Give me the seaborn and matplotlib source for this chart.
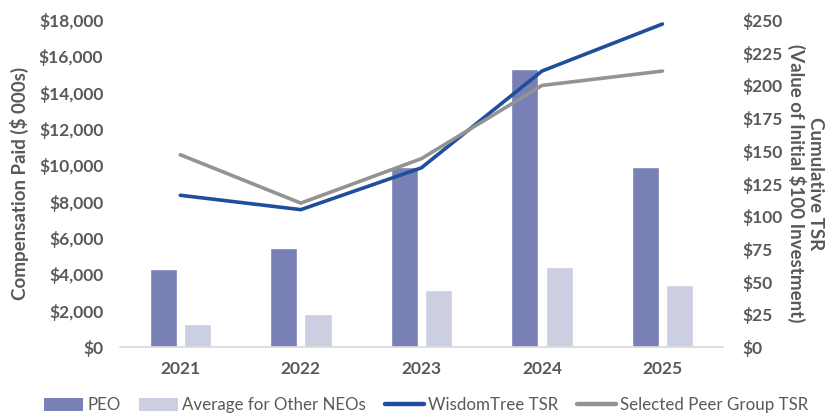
import matplotlib
matplotlib.use("Agg")
import matplotlib.pyplot as plt
import seaborn as sns
import pandas as pd
from matplotlib.patches import Patch
from matplotlib.lines import Line2D
from matplotlib.ticker import FuncFormatter, MultipleLocator

years = ["2021", "2022", "2023", "2024", "2025"]
peo = [4300, 5470, 9900, 15300, 9900]
avg_neo = [1250, 1820, 3120, 4420, 3410]
wisdomtree_tsr = [116, 105, 137, 211, 247]
peer_tsr = [147, 110, 144, 200, 211]

series_bar = ["PEO", "Average for Other NEOs"]
series_line = ["WisdomTree TSR", "Selected Peer Group TSR"]

c_peo = "#7880B6"
c_avg = "#CCCEE2"
c_wt = "#1F4E9C"
c_peer = "#939393"
txt = "#595959"

sns.set_theme(style="white")
plt.rcParams['font.family'] = ['Lato', 'DejaVu Sans']

bars = pd.DataFrame({
    "Year": years * 2,
    "Value": peo + avg_neo,
    "Series": [series_bar[0]] * len(years) + [series_bar[1]] * len(years),
})
lines = pd.DataFrame({
    "Year": years * 2,
    "Value": wisdomtree_tsr + peer_tsr,
    "Series": [series_line[0]] * len(years) + [series_line[1]] * len(years),
})

fig = plt.figure(figsize=(8.3, 4.18), dpi=100)
ax = fig.add_axes([0.1446, 0.170, 0.7262, 0.782])
sns.barplot(data=bars, x="Year", y="Value", hue="Series", order=years,
            palette=[c_peo, c_avg], width=0.57, gap=0.21, ax=ax,
            legend=False, saturation=1)
ax.set_ylim(0, 18000)
ax.yaxis.set_major_locator(MultipleLocator(2000))
ax.yaxis.set_major_formatter(FuncFormatter(lambda v, p: f"${v:,.0f}"))
ax.set_xlim(-0.5, 4.5)

ax2 = ax.twinx()
sns.lineplot(data=lines, x="Year", y="Value", hue="Series",
             palette=[c_wt, c_peer], linewidth=2.6, ax=ax2, legend=False,
             sort=False)
ax2.set_ylim(0, 250)
ax2.yaxis.set_major_locator(MultipleLocator(25))
ax2.yaxis.set_major_formatter(FuncFormatter(lambda v, p: f"${v:,.0f}"))
ax2.set_xlim(-0.5, 4.5)

for a in (ax, ax2):
    for s in a.spines.values():
        s.set_visible(False)
    a.tick_params(axis="both", length=0, colors=txt, labelsize=12.5)
    for lab in a.get_yticklabels() + a.get_xticklabels():
        lab.set_fontweight("bold")
ax.spines["bottom"].set_visible(True)
ax.spines["bottom"].set_color("#D9D9D9")
ax.spines["bottom"].set_linewidth(1.2)
ax.tick_params(axis="x", pad=10)
ax.tick_params(axis="y", pad=12)
ax2.tick_params(axis="y", pad=14)

ax.set_xlabel("")
ax.set_ylabel("Compensation Paid ($ 000s)", color=txt, fontsize=13.5,
              fontweight="bold", labelpad=7)
ax2.set_ylabel("Cumulative TSR\n(Value of Initial $100 Investment)", color=txt,
               fontsize=13.5, fontweight="bold", rotation=270, labelpad=30,
               linespacing=1.05)

handles = [
    Patch(facecolor=c_peo, edgecolor="none", label=series_bar[0]),
    Patch(facecolor=c_avg, edgecolor="none", label=series_bar[1]),
    Line2D([0], [0], color=c_wt, lw=3.2, label=series_line[0]),
    Line2D([0], [0], color=c_peer, lw=3.2, label=series_line[1]),
]
leg = fig.legend(handles=handles, loc="center left", bbox_to_anchor=(44 / 830, 0.03),
                 ncol=4, frameon=False, fontsize=12.2, handlelength=2.3,
                 handleheight=0.8, columnspacing=1.1, handletextpad=0.25,
                 borderpad=0, borderaxespad=0)
for t in leg.get_texts():
    t.set_color(txt)

fig.savefig("out.png", dpi=100)
